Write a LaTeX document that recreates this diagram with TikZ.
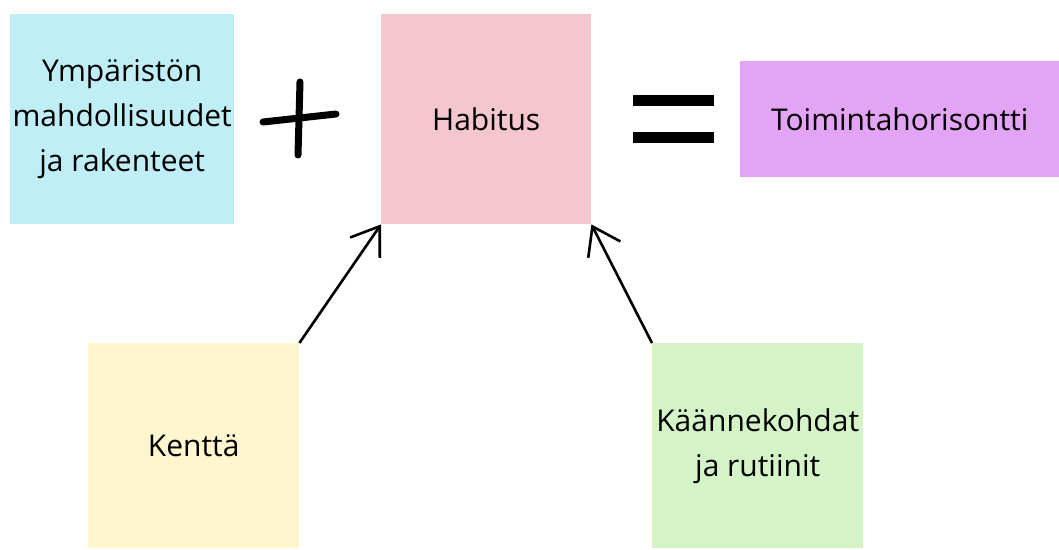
\documentclass[tikz,border=0pt]{standalone}
\usepackage{fontspec}
\setmainfont{Open Sans}
\usetikzlibrary{arrows.meta}
\definecolor{ymp}{HTML}{C0EEF6}
\definecolor{hab}{HTML}{F4C6CE}
\definecolor{toim}{HTML}{E3A4F6}
\definecolor{kent}{HTML}{FEF6CE}
\definecolor{kaan}{HTML}{D4F4C8}

\begin{document}
\begin{tikzpicture}[x=1pt,y=-1pt,
	box/.style={anchor=north west,inner sep=0pt,align=center,font=\fontsize{30}{45}\selectfont},
	sign/.style={line width=7pt,line cap=round},
	arr/.style={line width=2.6pt,-{Straight Barb[length=26pt,width=36pt,line width=2.6pt]}}]
	\useasboundingbox (0,0) rectangle (1059,549);

	\node[box,fill=ymp,minimum width=224pt,minimum height=210pt] (ymp) at (10,14) {Ympäristön\\mahdollisuudet\\ja rakenteet};
	\node[box,fill=hab,minimum width=210pt,minimum height=210pt] (hab) at (381,14) {Habitus};
	\node[box,fill=toim,minimum width=319pt,minimum height=116pt] (toim) at (740,61) {Toimintahorisontti};
	\node[box,fill=kent,minimum width=211pt,minimum height=205pt] (kent) at (88,343) {Kenttä};
	\node[box,fill=kaan,minimum width=211pt,minimum height=205pt] (kaan) at (652,343) {Käännekohdat\\ja rutiinit};

	% plus
	\draw[sign] (300,82) -- (298,155);
	\draw[sign] (263,122) -- (336,114);
	% equals
	\fill (633,95) rectangle (714,106);
	\fill (633,132) rectangle (714,143);

	\draw[arr] (kent.north east) -- (hab.south west);
	\draw[arr] (kaan.north west) -- (hab.south east);
\end{tikzpicture}
\end{document}
